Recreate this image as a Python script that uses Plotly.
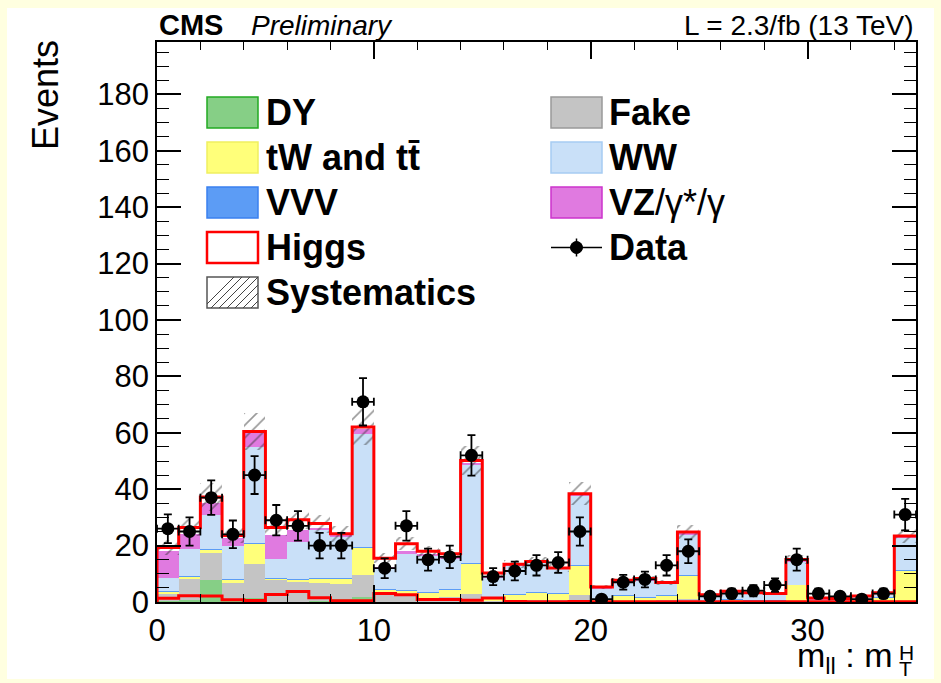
import plotly.graph_objects as go

# ---------------- data ----------------
bin_edges = list(range(0, 36))
dy = [0.3, 0.8, 7.7, 0.2, 1.3, 0.1, 0.1, 0.2, 1.2, 1.8,
      0.1, 0.1, 0.1, 0.1, 0.2, 0.1, 0.1, 0.1, 0.5, 0.8,
      0.1, 0.1, 0.1, 0.5, 0.3, 0.0, 0.0, 0.0, 0.0, 0.1,
      0.0, 0.0, 0.0, 0.0, 0.1]
fake = [2.6, 7.6, 9.8, 6.7, 12.3, 7.6, 7.0, 6.5, 5.3, 7.7,
        2.3, 2.0, 1.0, 1.7, 2.8, 0.4, 0.3, 0.6, 0.3, 1.6,
        0.1, 0.2, 0.2, 0.2, 0.7, 0.1, 0.1, 0.1, 0.1, 0.3,
        0.1, 0.1, 0.1, 0.1, 0.4]
top = [0.8, 0.7, 1.1, 1.1, 7.1, 0.8, 0.9, 1.8, 2.0, 9.8,
       2.0, 1.9, 2.4, 2.6, 10.6, 0.6, 2.2, 2.8, 2.2, 10.6,
       0.6, 2.1, 1.2, 1.6, 8.5, 0.4, 0.7, 0.6, 0.6, 5.7,
       0.2, 0.2, 0.5, 1.4, 10.7]
vvv = [0.1, 0.1, 0.1, 0.1, 0.2, 0.1, 0.1, 0.1, 0.1, 0.2,
       0.1, 0.1, 0.1, 0.1, 0.2, 0.1, 0.1, 0.1, 0.1, 0.2,
       0.1, 0.1, 0.1, 0.1, 0.2, 0.0, 0.1, 0.1, 0.1, 0.1,
       0.0, 0.0, 0.0, 0.1, 0.2]
ww = [4.8, 9.7, 12.0, 11.6, 34.1, 6.8, 13.2, 16.8, 14.4, 40.2,
      7.6, 13.0, 12.8, 11.0, 34.7, 7.5, 10.2, 10.3, 8.7, 24.4,
      4.0, 4.8, 5.9, 4.2, 14.4, 1.7, 2.6, 2.3, 2.0, 8.2,
      0.7, 0.7, 1.2, 1.5, 11.4]
vz = [9.4, 5.3, 4.4, 3.1, 5.0, 8.3, 4.2, 0.9, 0.8, 2.0,
      0.4, 1.0, 0.7, 0.7, 1.1, 0.2, 0.3, 0.4, 0.2, 0.6,
      0.3, 0.3, 0.7, 0.2, 0.6, 0.3, 0.2, 0.1, 0.1, 0.6,
      0.3, 0.1, 0.2, 0.1, 0.5]
higgs = [1.3, 2.2, 2.1, 0.8, 0.5, 2.7, 3.7, 1.5, 0.4, 0.4,
         3.0, 2.6, 0.9, 0.9, 0.6, 1.4, 0.2, 0.1, 0.1, 0.2,
         0.1, 0.1, 0.1, 0.1, 0.1, 0.1, 0.1, 0.1, 0.1, 0.1,
         0.1, 0.1, 0.1, 0.1, 0.1]
syst = [2.6, 3.0, 5.0, 2.8, 6.5, 3.0, 3.2, 3.2, 2.8, 6.5,
        1.8, 2.2, 1.9, 1.8, 5.0, 1.2, 1.4, 1.5, 1.3, 4.0,
        0.7, 0.9, 0.9, 0.8, 2.6, 0.4, 0.5, 0.4, 0.4, 1.6,
        0.3, 0.3, 0.3, 0.4, 2.6]
data = [26, 25, 37, 24, 45, 29, 27, 20, 20, 71,
        12, 27, 15, 16, 52, 9, 11, 13, 14, 25,
        1, 7, 8, 13, 18, 2, 3, 4, 6, 15,
        3, 2, 1, 3, 31]
data_err = [5.1, 5.0, 6.1, 4.9, 6.7, 5.4, 5.2, 4.5, 4.5, 8.4,
            3.5, 5.2, 3.9, 4.0, 7.2, 3.0, 3.3, 3.6, 3.7, 5.0,
            1.0, 2.6, 2.8, 3.6, 4.2, 1.4, 1.7, 2.0, 2.4, 3.9,
            1.7, 1.4, 1.0, 1.7, 5.6]
x_ticks = [0, 10, 20, 30]
y_ticks = [0, 20, 40, 60, 80, 100, 120, 140, 160, 180]

# ---------------- geometry helpers (pixels -> paper) ----------------
W, H = 941, 683
L, R, T, B = 157, 916, 42, 602
def px(x):
    return (x - L) / (R - L)
def py(y):
    return (B - y) / (B - T)

FONT = "Liberation Sans, Arial, Helvetica, sans-serif"
centers = [(bin_edges[i] + bin_edges[i + 1]) / 2 for i in range(len(bin_edges) - 1)]
widths = [bin_edges[i + 1] - bin_edges[i] for i in range(len(bin_edges) - 1)]

components = [
    ("DY", dy, "#86cf86"),
    ("Fake", fake, "#c4c4c4"),
    ("tW and tt", top, "#ffff7a"),
    ("VVV", vvv, "#5c9cf5"),
    ("WW", ww, "#c9e0f8"),
    ("VZ", vz, "#e07ae0"),
    ("Higgs", higgs, "#ffffff"),
]

fig = go.Figure()
cum = [0.0] * len(centers)
for name, vals, col in components:
    fig.add_trace(go.Bar(x=centers, y=vals, base=list(cum), width=widths,
                         marker=dict(color=col, line=dict(width=0)),
                         name=name, showlegend=False, hoverinfo="skip"))
    cum = [c + v for c, v in zip(cum, vals)]
total = cum

# systematics hatched band
fig.add_trace(go.Bar(x=centers, y=[2 * s for s in syst],
                     base=[t - s for t, s in zip(total, syst)], width=widths,
                     marker=dict(color="rgba(0,0,0,0)", line=dict(width=0),
                                 pattern=dict(shape="/", fgcolor="#333333",
                                              bgcolor="rgba(0,0,0,0)", size=9,
                                              solidity=0.18, fillmode="overlay")),
                     showlegend=False, hoverinfo="skip"))

# red outline of the total stack
fig.add_trace(go.Scatter(x=[bin_edges[0]] + bin_edges, y=[0] + total + [total[-1]],
                         mode="lines", line=dict(color="#ff0000", width=3, shape="hv"),
                         showlegend=False, hoverinfo="skip"))
# Higgs alone, superimposed
fig.add_trace(go.Scatter(x=[bin_edges[0]] + bin_edges, y=[0] + higgs + [higgs[-1]],
                         mode="lines", line=dict(color="#ff0000", width=3, shape="hv"),
                         showlegend=False, hoverinfo="skip"))

# data
fig.add_trace(go.Scatter(x=centers, y=data, mode="markers",
                         marker=dict(color="black", size=13, symbol="circle"),
                         error_y=dict(type="data", array=data_err, color="black",
                                      thickness=1.8, width=4),
                         error_x=dict(type="data", array=[w / 2 for w in widths],
                                      color="black", thickness=1.8, width=4),
                         showlegend=False, hoverinfo="skip"))

# ---------------- layout ----------------
shapes = []
annotations = []
# white page inside a pale yellow border
shapes.append(dict(type="rect", xref="paper", yref="paper", layer="below",
                   x0=px(7), x1=px(934), y0=py(679), y1=py(8),
                   fillcolor="white", line=dict(width=0)))

# legend
leg_rows = [112.5, 157.5, 202.5, 247.5, 292.5]
def box(x0, yc, fill, line, lw=1.5):
    shapes.append(dict(type="rect", xref="paper", yref="paper",
                       x0=px(x0), x1=px(x0 + 51), y0=py(yc + 15.5), y1=py(yc - 15.5),
                       fillcolor=fill, line=dict(color=line, width=lw)))
def label(x, yc, text):
    annotations.append(dict(x=px(x), y=py(yc), xref="paper", yref="paper",
                            xanchor="left", yanchor="middle", showarrow=False,
                            text=text, font=dict(family=FONT, size=36, color="black")))

box(207, leg_rows[0], "#86cf86", "#22aa22")
label(264, leg_rows[0], "<b>DY</b>")
box(207, leg_rows[1], "#ffff7a", "#f0f060")
label(264, leg_rows[1], "<b>tW and tt\u0304</b>")
box(207, leg_rows[2], "#5c9cf5", "#3a80f0")
label(264, leg_rows[2], "<b>VVV</b>")
box(207, leg_rows[3], "white", "#ff0000", 2.5)
label(264, leg_rows[3], "<b>Higgs</b>")
box(207, leg_rows[4], "white", "#555555")
label(264, leg_rows[4], "<b>Systematics</b>")
# hatch inside the systematics legend box
yc = leg_rows[4]
for k in range(8):
    xs = 207 + k * 8
    x_a, y_a = xs - 4, yc + 15.5
    x_b, y_b = xs + 27, yc - 15.5
    if x_a < 207:
        y_a -= (207 - x_a)
        x_a = 207
    if x_b > 258:
        y_b += (x_b - 258)
        x_b = 258
    if x_b > x_a:
        shapes.append(dict(type="line", xref="paper", yref="paper",
                           x0=px(x_a), y0=py(y_a), x1=px(x_b), y1=py(y_b),
                           line=dict(color="#444444", width=1)))

box(551, leg_rows[0], "#c4c4c4", "#999999")
label(607, leg_rows[0], "<b>Fake</b>")
box(551, leg_rows[1], "#c9e0f8", "#a6ccf2")
label(607, leg_rows[1], "<b>WW</b>")
box(551, leg_rows[2], "#e07ae0", "#cc33cc")
label(607, leg_rows[2], "<b>VZ</b>/\u03b3*/\u03b3")
# data legend symbol
shapes.append(dict(type="line", xref="paper", yref="paper",
                   x0=px(551), x1=px(602), y0=py(leg_rows[3]), y1=py(leg_rows[3]),
                   line=dict(color="black", width=1.5)))
shapes.append(dict(type="line", xref="paper", yref="paper",
                   x0=px(576.5), x1=px(576.5), y0=py(leg_rows[3] - 9), y1=py(leg_rows[3] + 9),
                   line=dict(color="black", width=1.5)))
shapes.append(dict(type="circle", xref="paper", yref="paper",
                   x0=px(570.5), x1=px(582.5), y0=py(leg_rows[3] + 6), y1=py(leg_rows[3] - 6),
                   fillcolor="black", line=dict(color="black", width=1)))
label(607, leg_rows[3], "<b>Data</b>")

# header texts
annotations.append(dict(x=px(157), y=py(25), xref="paper", yref="paper", xanchor="left",
                        yanchor="middle", showarrow=False, text="<b>CMS</b>",
                        font=dict(family=FONT, size=29, color="black")))
annotations.append(dict(x=px(249), y=py(25), xref="paper", yref="paper", xanchor="left",
                        yanchor="middle", showarrow=False, text="<i>Preliminary</i>",
                        font=dict(family=FONT, size=28, color="black")))
annotations.append(dict(x=px(916), y=py(25), xref="paper", yref="paper", xanchor="right",
                        yanchor="middle", showarrow=False, text="L = 2.3/fb (13 TeV)",
                        font=dict(family=FONT, size=28, color="black")))
# axis titles
annotations.append(dict(x=px(45), y=py(38), xref="paper", yref="paper", xanchor="center",
                        yanchor="top", showarrow=False, text="Events", textangle=-90,
                        font=dict(family=FONT, size=36, color="black")))
annotations.append(dict(x=px(895), y=py(657), xref="paper", yref="paper", xanchor="right",
                        yanchor="middle", showarrow=False, text="m<sub>ll</sub> : m",
                        font=dict(family=FONT, size=34, color="black")))
annotations.append(dict(x=px(897), y=py(652), xref="paper", yref="paper", xanchor="left",
                        yanchor="middle", showarrow=False, text="H",
                        font=dict(family=FONT, size=21, color="black")))
annotations.append(dict(x=px(897), y=py(668), xref="paper", yref="paper", xanchor="left",
                        yanchor="middle", showarrow=False, text="T",
                        font=dict(family=FONT, size=21, color="black")))

fig.update_layout(
    width=W, height=H,
    margin=dict(l=L, r=W - R, t=T, b=H - B, pad=0),
    paper_bgcolor="#ffffe0", plot_bgcolor="white",
    barmode="overlay", bargap=0,
    showlegend=False,
    shapes=shapes, annotations=annotations,
    font=dict(family=FONT, color="black"),
    xaxis=dict(range=[bin_edges[0], bin_edges[-1]], tickvals=x_ticks,
               ticks="inside", ticklen=17, tickwidth=1.5, tickcolor="black",
               showline=True, linecolor="black", linewidth=1.5, mirror="ticks",
               showgrid=False, zeroline=False,
               minor=dict(dtick=2, ticklen=8, ticks="inside", tickcolor="black", tickwidth=1.2),
               tickfont=dict(family=FONT, size=31, color="black")),
    yaxis=dict(range=[0, 198.6], tickvals=y_ticks,
               ticks="inside", ticklen=24, tickwidth=1.5, tickcolor="black",
               showline=True, linecolor="black", linewidth=1.5, mirror="ticks",
               showgrid=False, zeroline=False,
               minor=dict(dtick=5, ticklen=12, ticks="inside", tickcolor="black", tickwidth=1.2),
               tickfont=dict(family=FONT, size=31, color="black")),
)

fig.write_html("out.html")
